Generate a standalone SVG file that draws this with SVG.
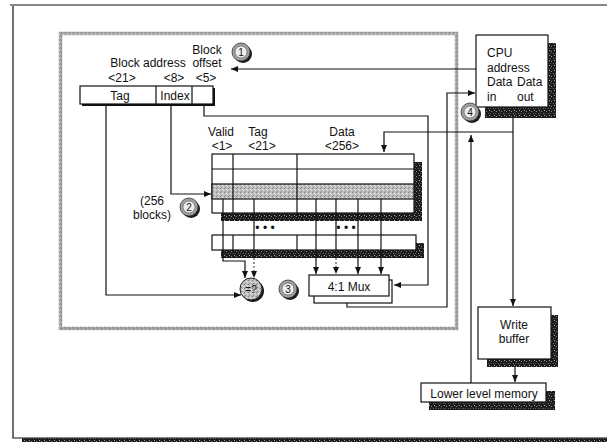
<svg xmlns="http://www.w3.org/2000/svg" width="607" height="442" viewBox="0 0 607 442">
<defs>
<style>
.ln{stroke:#111;stroke-width:1.2;fill:none}
.dl{stroke:#444;stroke-width:1.1;fill:none;stroke-dasharray:2 2}
.box{fill:#fff;stroke:#111;stroke-width:1.2}
.sh{fill:url(#dark)}
.t{font-family:"Liberation Sans",Arial,sans-serif;font-size:12px;fill:#111}
.c{text-anchor:middle}
.n{font-family:"Liberation Sans",Arial,sans-serif;font-size:10px;fill:#111;text-anchor:middle}
</style>
<pattern id="dark" width="5" height="5" patternUnits="userSpaceOnUse">
<rect width="5" height="5" fill="#1c1c1c"/>
<rect x="1" y="1" width="1" height="1" fill="#8a8a8a"/>
<rect x="3" y="3" width="1" height="1" fill="#666"/>
<rect x="4" y="0" width="1" height="1" fill="#aaa"/>
<rect x="0" y="3" width="1" height="1" fill="#555"/>
</pattern>
<pattern id="gray" width="4" height="4" patternUnits="userSpaceOnUse">
<rect width="4" height="4" fill="#bdbdbd"/>
<rect x="0" y="0" width="1" height="1" fill="#7f7f7f"/>
<rect x="2" y="1" width="1" height="1" fill="#e6e6e6"/>
<rect x="1" y="3" width="1" height="1" fill="#909090"/>
<rect x="3" y="2" width="1" height="1" fill="#dcdcdc"/>
</pattern>
<pattern id="frame" width="4" height="4" patternUnits="userSpaceOnUse">
<rect width="4" height="4" fill="#a8a8a8"/>
<rect x="1" y="0" width="1" height="1" fill="#777"/>
<rect x="3" y="2" width="1" height="1" fill="#d8d8d8"/>
<rect x="0" y="3" width="1" height="1" fill="#888"/>
</pattern>
<marker id="ah" markerWidth="7" markerHeight="6" refX="7" refY="3" orient="auto" markerUnits="userSpaceOnUse">
<path d="M0,0 L7,3 L0,6 z" fill="#111"/>
</marker>
</defs>
<rect width="607" height="442" fill="#fff"/>

<g id="outer-frame">
<path d="M10,5 H607 M13,6 V438 H607" class="ln" stroke-width="1.5"/>
<rect x="22" y="438" width="585" height="4" class="sh"/>
</g>

<g id="cache-frame">
<rect x="60.5" y="33.5" width="396" height="295" fill="none" stroke="url(#frame)" stroke-width="3.5"/>
</g>

<g id="address-register">
<rect x="82" y="88" width="133" height="18" fill="#111"/>
<rect x="80" y="86" width="133" height="18" class="box"/>
<path d="M156,86 V104 M192,86 V104" class="ln"/>
<text x="120" y="100" class="t c">Tag</text>
<text x="175" y="100" class="t c">Index</text>
<text x="148" y="67" class="t c">Block address</text>
<text x="207" y="54" class="t c">Block</text>
<text x="207" y="67" class="t c">offset</text>
<text x="122" y="82" class="t c">&lt;21&gt;</text>
<text x="174" y="82" class="t c">&lt;8&gt;</text>
<text x="206" y="82" class="t c">&lt;5&gt;</text>
</g>

<g id="step1">
<circle cx="243" cy="54" r="9" fill="#1c1c1c"/>
<circle cx="241" cy="52" r="9" fill="#a0a0a0" stroke="#333" stroke-width="0.8"/>
<circle cx="241" cy="52" r="6" fill="#eee" stroke="#555" stroke-width="0.6"/>
<text x="241" y="56" class="n">1</text>
</g>

<g id="cache-array">
<text x="221" y="136" class="t c">Valid</text>
<text x="258" y="136" class="t c">Tag</text>
<text x="342" y="136" class="t c">Data</text>
<text x="222" y="150" class="t c">&lt;1&gt;</text>
<text x="262" y="150" class="t c">&lt;21&gt;</text>
<text x="342" y="150" class="t c">&lt;256&gt;</text>
<path d="M414,162 H422 V221 H221 V213 H414 Z" class="sh"/>
<rect x="212" y="154" width="202" height="59" class="box"/>
<rect x="212" y="184" width="202" height="15" fill="url(#gray)" stroke="#111" stroke-width="1.2"/>
<path d="M212,169 H414 M233,154 V213 M297,154 V213" class="ln"/>
<text x="265" y="232" class="t c" font-size="10">• • •</text>
<text x="346" y="232" class="t c" font-size="10">• • •</text>
<path d="M416,243 H424 V258 H221 V250 H416 Z" class="sh"/>
<rect x="212" y="235" width="204" height="15" class="box"/>
<path d="M233,235 V250 M297,235 V250" class="ln"/>
<text x="140" y="205" class="t">(256</text>
<text x="133" y="219" class="t">blocks)</text>
</g>

<g id="step2">
<circle cx="191" cy="209" r="9" fill="#1c1c1c"/>
<circle cx="189" cy="207" r="9" fill="#a0a0a0" stroke="#333" stroke-width="0.8"/>
<circle cx="189" cy="207" r="6" fill="#eee" stroke="#555" stroke-width="0.6"/>
<text x="189" y="211" class="n">2</text>
</g>

<g id="comparator">
<circle cx="253" cy="291" r="11" fill="#1c1c1c"/>
<circle cx="251" cy="289" r="11" fill="url(#gray)" stroke="#222" stroke-width="1"/>
<text x="251" y="293" class="n" font-size="11">=?</text>
</g>

<g id="step3">
<circle cx="290" cy="291" r="9" fill="#1c1c1c"/>
<circle cx="288" cy="289" r="9" fill="#a0a0a0" stroke="#333" stroke-width="0.8"/>
<circle cx="288" cy="289" r="6" fill="#eee" stroke="#555" stroke-width="0.6"/>
<text x="288" y="293" class="n">3</text>
</g>

<g id="mux">
<rect x="314" y="280" width="78" height="23" class="box"/>
<rect x="309" y="275" width="80" height="21" class="box"/>
<text x="349" y="291" class="t c">4:1 Mux</text>
</g>

<g id="cpu">
<rect x="485" y="43" width="71" height="75" class="sh"/>
<rect x="476" y="35" width="72" height="72" class="box"/>
<text x="487" y="57" class="t">CPU</text>
<text x="487" y="72" class="t">address</text>
<text x="487" y="86" class="t">Data</text>
<text x="517" y="86" class="t">Data</text>
<text x="487" y="101" class="t">in</text>
<text x="517" y="101" class="t">out</text>
</g>

<g id="step4">
<circle cx="472" cy="114" r="9" fill="#1c1c1c"/>
<circle cx="470" cy="112" r="9" fill="#a0a0a0" stroke="#333" stroke-width="0.8"/>
<circle cx="470" cy="112" r="6" fill="#eee" stroke="#555" stroke-width="0.6"/>
<text x="470" y="116" class="n">4</text>
</g>

<g id="write-buffer">
<rect x="487" y="315" width="71" height="52" class="sh"/>
<rect x="478" y="307" width="73" height="52" class="box"/>
<text x="514" y="329" class="t c">Write</text>
<text x="514" y="343" class="t c">buffer</text>
</g>

<g id="lower-memory">
<rect x="429" y="391" width="126" height="19" class="sh"/>
<rect x="421" y="383" width="125" height="19" class="box"/>
<text x="484" y="398" class="t c">Lower level memory</text>
</g>

<g id="connectors">
<path d="M476,69 H231" class="ln" marker-end="url(#ah)"/>
<path d="M204,104 V116 H428 V285 H394" class="ln" marker-end="url(#ah)"/>
<path d="M106,104 V295 H241" class="ln" marker-end="url(#ah)"/>
<path d="M171,104 V194 H211" class="ln" marker-end="url(#ah)"/>
<path d="M223,199 V261 H245 V278" class="ln" marker-end="url(#ah)"/>
<path d="M254,199 V258" class="ln"/>
<path d="M254,258 V278" class="dl" marker-end="url(#ah)"/>
<path d="M316,199 V274" class="ln" marker-end="url(#ah)"/>
<path d="M336,199 V258" class="ln"/>
<path d="M336,258 V274" class="dl" marker-end="url(#ah)"/>
<path d="M358,199 V274" class="ln" marker-end="url(#ah)"/>
<path d="M381,199 V274" class="ln" marker-end="url(#ah)"/>
<path d="M347,303 V307 H447 V93 H475" class="ln" marker-end="url(#ah)"/>
<path d="M513,118 V306" class="ln" marker-end="url(#ah)"/>
<path d="M513,132 H384 V152" class="ln" marker-end="url(#ah)"/>
<path d="M515,367 V382" class="ln" marker-end="url(#ah)"/>
<path d="M471,383 V135" class="ln" marker-end="url(#ah)"/>
</g>
</svg>
